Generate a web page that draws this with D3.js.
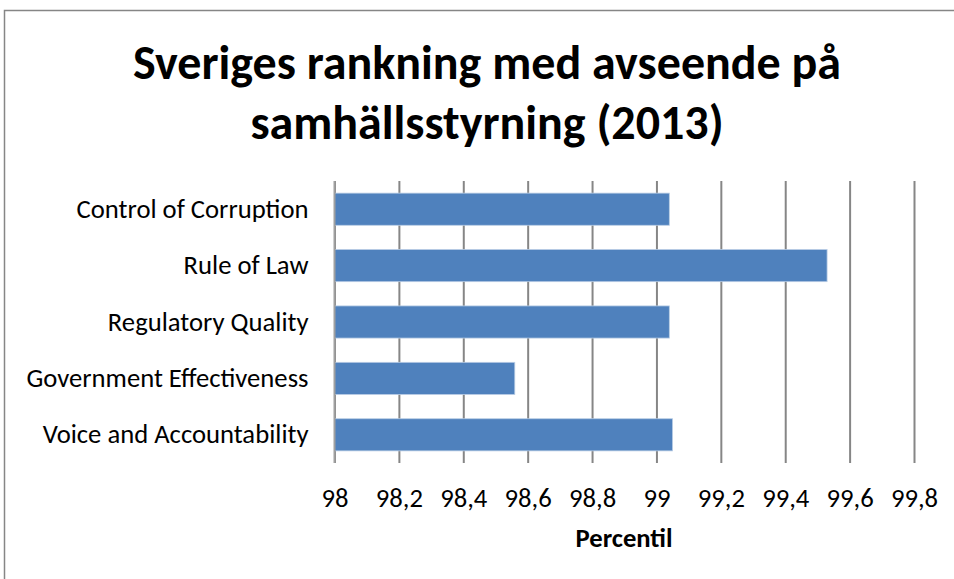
<!DOCTYPE html>
<html lang="sv">
<head>
    <meta charset="UTF-8">
    <title>Sveriges rankning</title>
    <script src="https://d3js.org/d3.v7.min.js"></script>
    <style>
        body { margin: 0; background: white; }
        text { font-family: Carlito, Calibri, Lato, "Open Sans", sans-serif; fill: #000; }
        .grids .domain { stroke: none; }
        .grids line { stroke: #868686; stroke-width: 2; }
    </style>
</head>
<body>
    <svg id="chart" width="954" height="579"></svg>

    <script>
        // data -------------------------------------------------------------
        const categories = ["Control of Corruption", "Rule of Law", "Regulatory Quality",
                            "Government Effectiveness", "Voice and Accountability"];
        const percentiles = [99.04, 99.53, 99.04, 98.56, 99.05];
        const tickValues = [98, 98.2, 98.4, 98.6, 98.8, 99, 99.2, 99.4, 99.6, 99.8];
        const titleLines = ["Sveriges rankning med avseende på", "samhällsstyrning (2013)"];
        const axisTitle = "Percentil";

        const rows = categories.map((c, i) => ({name: c, value: percentiles[i]}));

        // svg config -------------------------------------------------------
        const svg = d3.select("svg#chart");
        const plot = {left: 334.5, right: 914, top: 181, bottom: 463};

        // outer chart border (right / bottom run past the frame)
        svg.append("rect")
            .attr("x", 4.5).attr("y", 10.5)
            .attr("width", 1000).attr("height", 700)
            .attr("fill", "white")
            .attr("stroke", "#868686")
            .attr("stroke-width", 1.5);

        const xScale = d3.scaleLinear().domain([98, 99.8]).range([plot.left, plot.right]);
        const yScale = d3.scaleBand()
            .domain(categories)
            .range([plot.top, plot.bottom])
            .paddingInner(0.43)
            .paddingOuter(0.215);

        // title
        svg.append("text")
            .attr("text-anchor", "middle")
            .style("font-size", "48px")
            .style("font-weight", "bold")
            .selectAll("tspan")
            .data(titleLines)
            .join("tspan")
            .attr("x", 487)
            .attr("y", (d, i) => 79 + i * 60)
            .text(d => d);

        // vertical gridlines
        const grid = d3.axisBottom(xScale)
            .tickValues(tickValues)
            .tickSize(-(plot.bottom - plot.top))
            .tickFormat("");
        svg.append("g")
            .attr("class", "grids")
            .attr("transform", `translate(0,${plot.bottom})`)
            .call(grid);

        // bars
        svg.append("g")
            .selectAll("rect")
            .data(rows)
            .join("rect")
            .attr("x", xScale(98))
            .attr("y", d => yScale(d.name))
            .attr("width", d => xScale(d.value) - xScale(98))
            .attr("height", yScale.bandwidth())
            .attr("fill", "#4f81bd")
            .attr("stroke", "#b9cde5")
            .attr("stroke-width", 0.8);

        // category axis line
        svg.append("line")
            .attr("x1", xScale(98)).attr("x2", xScale(98))
            .attr("y1", plot.top).attr("y2", plot.bottom)
            .attr("stroke", "#a0a0a0").attr("stroke-width", 2);

        // category labels
        const yAxis = d3.axisLeft(yScale).tickSize(0).tickPadding(26);
        const yG = svg.append("g")
            .attr("transform", `translate(${plot.left},0)`)
            .call(yAxis);
        yG.select(".domain").remove();
        yG.selectAll("text").style("font-size", "26.67px").attr("dy", "0.32em");

        // x tick labels
        const xAxis = d3.axisBottom(xScale)
            .tickValues(tickValues)
            .tickSize(0)
            .tickPadding(0)
            .tickFormat(d => d3.format("~g")(d).replace(".", ","));
        const xG = svg.append("g")
            .attr("transform", `translate(0,${plot.bottom})`)
            .call(xAxis);
        xG.select(".domain").remove();
        xG.selectAll("text")
            .attr("y", 44)
            .attr("dy", 0)
            .style("font-size", "26.67px");

        // axis title
        svg.append("text")
            .attr("x", 624)
            .attr("y", 547)
            .attr("text-anchor", "middle")
            .style("font-size", "20px")
            .style("font-size", "26.67px")
            .style("font-weight", "bold")
            .text(axisTitle);
    </script>
</body>
</html>
